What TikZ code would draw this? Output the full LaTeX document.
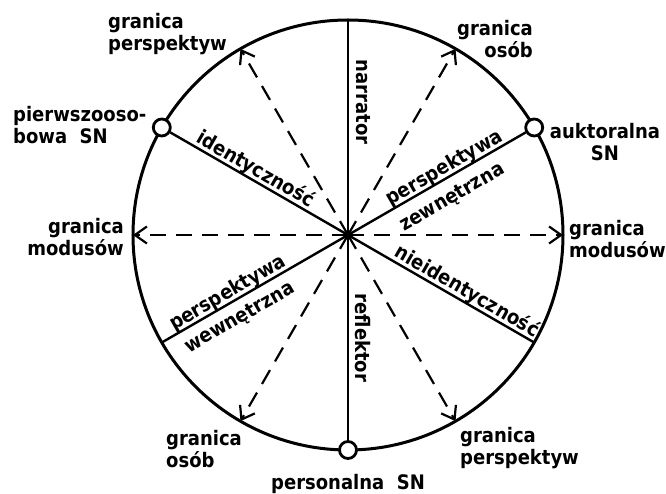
\documentclass[tikz,border=0pt]{standalone}
\usepackage{fontspec}
\setmainfont{DejaVu Sans Condensed}
\usetikzlibrary{arrows.meta}

\begin{document}
\begin{tikzpicture}[x=1pt, y=1pt, >={Straight Barb[length=12pt,width=17pt]},
  lbl/.style={font=\fontsize{20}{22}\selectfont\bfseries, inner sep=0pt},
  sn/.style={draw, circle, fill=white, line width=2.8pt, minimum size=17pt, inner sep=0pt},
  bound/.style={->, line width=2.2pt, dash pattern=on 16pt off 10pt},
  axis/.style={line width=2.4pt}]
\useasboundingbox (-348,-259) rectangle (318,235);
\coordinate (c) at (0,0);
\draw[line width=3pt] (c) circle (215);
% punkty na okregu
\node[sn] (auk) at (30:215) {};
\node[sn] (pierw) at (150:215) {};
\node[sn] (pers) at (270:215) {};
\coordinate (narr) at (90:215);
\coordinate (wew) at (210:215);
\coordinate (nied) at (330:215);
\coordinate (gm0) at (0:215);
\coordinate (go60) at (60:215);
\coordinate (gp120) at (120:215);
\coordinate (gm180) at (180:215);
\coordinate (go240) at (240:215);
\coordinate (gp300) at (300:215);
\draw[axis] (c)--(narr);\draw[axis] (c)--(pers);
\draw[axis] (c)--(auk);\draw[axis] (c)--(pierw);
\draw[axis] (c)--(wew);\draw[axis] (c)--(nied);
\foreach \g in {gm0,go60,gp120,gm180,go240,gp300}
  \draw[bound] (c)--(\g);
\fill (c) circle (4.5);
% napisy na zewnatrz
\node[lbl, align=left, anchor=north west] (gp120l) at (-240,222) {granica\\perspektyw};
\node[lbl, align=right, anchor=north east] (go60l) at (185,215) {granica\\osób};
\node[lbl, align=center, anchor=north] (aukl) at (257,112) {auktoralna\\SN};
\node[lbl, align=left, anchor=north west] (pierwl) at (-335,129) {pierwszooso-\\bowa\ \ SN};
\node[lbl, align=right, anchor=north east] (gm180l) at (-224,17) {granica\\modusów};
\node[lbl, align=left, anchor=north west] (gm0l) at (221,15) {granica\\modusów};
\node[lbl, align=left, anchor=north west] (go240l) at (-182,-195) {granica\\osób};
\node[lbl, align=left, anchor=north west] (gp300l) at (112,-192) {granica\\perspektyw};
\node[lbl, anchor=base] (persl) at (0,-254) {personalna\ \ SN};
% napisy wzdluz promieni
\node[lbl, rotate=-90, anchor=base] (narrl) at (8,133) {narrator};
\node[lbl, rotate=-90, anchor=base] (refl) at (7,-103) {reflektor};
\node[lbl, rotate=-30, anchor=base] (identl) at ([shift={(60:4.5)}]150:113) {identyczność};
\node[lbl, rotate=30, anchor=base] (zew1) at ([shift={(120:4)}]30:117) {perspektywa};
\node[lbl, rotate=30, anchor=base] (zew2) at ([shift={(120:-25)}]30:109) {zewnętrzna};
\node[lbl, rotate=30, anchor=base] (wew1) at ([shift={(120:4)}]210:133) {perspektywa};
\node[lbl, rotate=30, anchor=base] (wew2) at ([shift={(120:-23)}]210:135) {wewnętrzna};
\node[lbl, rotate=-30, anchor=base] (niel) at ([shift={(60:4.5)}]330:131) {nieidentyczność};
\end{tikzpicture}
\end{document}
